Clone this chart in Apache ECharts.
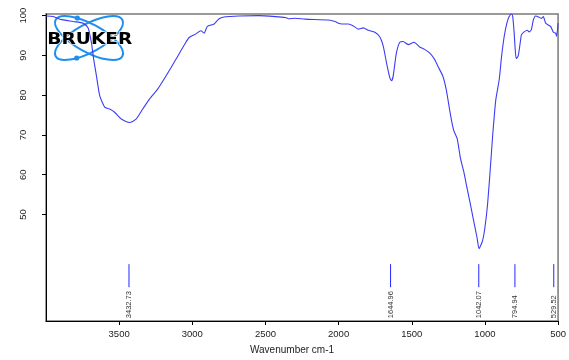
<!DOCTYPE html>
<html>
<head>
<meta charset="utf-8">
<script src="https://cdn.jsdelivr.net/npm/echarts@6/dist/echarts.min.js"></script>
<style>
html,body{margin:0;padding:0;background:#fff;}
#chart{width:569px;height:360px;}
</style>
</head>
<body>
<div id="chart"></div>
<script>
// Wavenumber (cm-1) and transmittance (%)
var wavenumbers = [4000,3995,3950,3905,3860,3814,3746,3712,3689,3674,3655,3633,3599,3565,3531,3485,3429,3383,3339,3293,3237,3180,3112,3044,3021,2976,2942,2919,2897,2851,2817,2772,2681,2545,2432,2364,2341,2296,2228,2069,2024,2001,1979,1933,1899,1865,1831,1797,1752,1718,1695,1673,1650,1639,1627,1605,1582,1559,1525,1485,1446,1412,1378,1344,1322,1288,1265,1242,1226,1213,1190,1167,1145,1122,1099,1077,1054,1040,1016,1000,982,963,947,932,925,902,886,868,850,834,818,810,800,793,786,773,759,750,732,710,698,683,669,653,630,615,601,585,569,551,532,517,510,500];
var transmittance = [99.9,99.9,99.75,99.1,98.8,98.5,98.1,96.9,93.1,89,84.8,79.9,77,76.5,75.7,74,73.1,74,76.5,79,81.5,84.8,89,93.3,94.5,95.4,96.2,95.6,97.3,97.9,99.2,99.7,99.9,100,99.75,99.5,99.2,99.35,99.1,98.9,98.5,98.1,97.9,97.9,97.4,96.6,96.9,96.3,95.8,94.6,92.3,88.2,84.4,83.6,84.8,90.6,93.3,93.5,92.7,93.3,92.1,91.5,90.6,89,87.3,84.8,81.5,76.5,73.2,71.1,69.1,64.1,60.8,56.6,52.5,48.4,44.2,41.4,43.4,46.7,52.5,61.6,69.9,76.5,79,84,89.8,94.8,98.1,99.75,100.4,99.75,95.6,91.5,89.2,89.8,93.1,95.2,95.9,96.3,95.9,96.4,98.9,99.9,99.6,99.3,99.75,98.1,97.7,97.3,95.8,95.6,94.8,98.1];
var peaks = [3432.73, 1644.96, 1042.07, 794.94, 529.52];
var xTicks = [3500, 3000, 2500, 2000, 1500, 1000, 500];
var yTicks = [50, 60, 70, 80, 90, 100];

var spectrum = wavenumbers.map(function (w, i) { return [w, transmittance[i]]; });
var FONT = 'Liberation Sans';
var plain = function (v) { return String(v); };

var chart = echarts.init(document.getElementById('chart'), null, {renderer: 'canvas'});
chart.setOption({
  animation: false,
  backgroundColor: '#ffffff',
  grid: {left: 46, right: 8, top: 14, bottom: 35, show: true, borderColor: '#7a7a7a', borderWidth: 1.5, containLabel: false},
  xAxis: {
    type: 'value', min: 500, max: 4000, inverse: true,
    name: 'Wavenumber cm-1', nameLocation: 'middle', nameGap: 24,
    nameTextStyle: {fontFamily: FONT, fontSize: 10, color: '#222', padding: [0, 20, 0, 0]},
    axisLine: {show: true, lineStyle: {color: '#000', width: 1}},
    axisTick: {show: true, length: 4, lineStyle: {color: '#000'}, customValues: xTicks},
    axisLabel: {fontFamily: FONT, fontSize: 9.5, color: '#222', margin: 8, customValues: xTicks, formatter: plain},
    splitLine: {show: false}
  },
  yAxis: {
    type: 'value', min: 23.2, max: 100.4,
    axisLine: {show: true, lineStyle: {color: '#000', width: 1}},
    axisTick: {show: true, length: 4, lineStyle: {color: '#000'}, customValues: yTicks},
    axisLabel: {fontFamily: FONT, fontSize: 9.5, color: '#222', rotate: 90, margin: 18, customValues: yTicks, formatter: plain},
    splitLine: {show: false}
  },
  graphic: [
    {type: 'ellipse', x: 89, y: 38, rotation: 0.5, z: 0, shape: {cx: 0, cy: 0, rx: 38, ry: 14}, style: {fill: 'none', stroke: '#1e8ff0', lineWidth: 2}},
    {type: 'ellipse', x: 89, y: 38, rotation: -0.5, z: 0, shape: {cx: 0, cy: 0, rx: 38, ry: 14}, style: {fill: 'none', stroke: '#1e8ff0', lineWidth: 2}},
    {type: 'circle', z: 0, shape: {cx: 77.3, cy: 18, r: 2.6}, style: {fill: '#1e8ff0'}},
    {type: 'circle', z: 0, shape: {cx: 76.7, cy: 58, r: 2.6}, style: {fill: '#1e8ff0'}},
    {type: 'text', x: 89.8, y: 40.5, z: 1, scaleX: 1.24, style: {text: 'BRUKER', font: 'bold 15px "DejaVu Sans"', fill: '#000', stroke: '#fff', lineWidth: 1.2, align: 'center', verticalAlign: 'middle'}}
  ],
  series: [
    {
      type: 'line', data: spectrum, showSymbol: false, smooth: 0.2, z: 3,
      lineStyle: {color: '#3c3cf5', width: 1.1}
    },
    {
      type: 'custom', z: 3,
      data: peaks.map(function (p) { return [p]; }),
      renderItem: function (params, api) {
        var w = api.value(0);
        var p1 = api.coord([w, 37.5]);
        var p2 = api.coord([w, 31.7]);
        return {
          type: 'group',
          children: [
            {type: 'line', shape: {x1: p1[0], y1: p1[1], x2: p2[0], y2: p2[1]}, style: {stroke: '#2525ff', lineWidth: 1}},
            {type: 'text', x: p1[0], y: p2[1] + 31, rotation: Math.PI / 2,
             style: {text: w.toFixed(2), font: '7.5px "Liberation Sans"', fill: '#333', align: 'left', verticalAlign: 'middle'}}
          ]
        };
      }
    }
  ]
});
</script>
</body>
</html>
